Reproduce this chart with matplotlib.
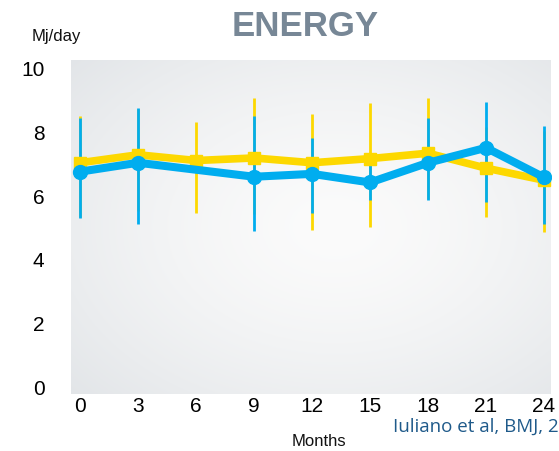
import numpy as np
import matplotlib
matplotlib.use("Agg")
import matplotlib.pyplot as plt

# Data
months_yellow = [0, 3, 6, 9, 12, 15, 18, 21, 24]
yellow_mean = [7.05, 7.3, 7.12, 7.2, 7.05, 7.18, 7.35, 6.88, 6.5]
yellow_upper = [8.53, 8.73, 8.32, 9.07, 8.57, 8.92, 9.07, 8.16, 8.05]
yellow_lower = [5.36, 5.54, 5.46, 5.44, 4.94, 5.02, 5.90, 5.33, 4.88]

months_blue = [0, 3, 9, 12, 15, 18, 21, 24]
blue_mean = [6.77, 7.05, 6.61, 6.70, 6.43, 7.05, 7.52, 6.59]
blue_upper = [8.45, 8.76, 8.52, 7.82, 7.03, 8.45, 8.95, 8.21]
blue_lower = [5.30, 5.14, 4.91, 5.46, 5.88, 5.88, 5.83, 5.12]

x_ticks = [0, 3, 6, 9, 12, 15, 18, 21, 24]
y_ticks = [0, 2, 4, 6, 8, 10]

BLUE = "#00ADEF"
YELLOW = "#FDD800"
FONT = ["Liberation Sans", "DejaVu Sans"]

fig = plt.figure(figsize=(5.59, 4.51), dpi=100)
ax = fig.add_axes([71 / 559, 1 - 394 / 451, 480 / 559, 334 / 451])

xlim = (-0.47, 24.36)
ylim = (-0.22, 10.28)
ax.set_xlim(*xlim)
ax.set_ylim(*ylim)

# radial-ish gradient background
nx, ny = 300, 240
gx, gy = np.meshgrid(np.linspace(0, 1, nx), np.linspace(0, 1, ny))
r = np.sqrt(((gx - 0.55) / 0.75) ** 2 + ((gy - 0.5) / 0.75) ** 2)
r = np.clip(r, 0, 1)
c_in = np.array([251, 251, 251]) / 255
c_out = np.array([226, 229, 232]) / 255
img = c_in[None, None, :] * (1 - r[..., None] ** 1.5) + c_out[None, None, :] * (r[..., None] ** 1.5)
ax.imshow(img, extent=[xlim[0], xlim[1], ylim[0], ylim[1]], aspect="auto",
          origin="lower", zorder=0)

# error bars
ax.vlines(months_yellow, yellow_lower, yellow_upper, colors=YELLOW, linewidth=2.0, zorder=2)
ax.vlines(months_blue, blue_lower, blue_upper, colors=BLUE, linewidth=2.0, zorder=2)

# lines
ax.plot(months_yellow, yellow_mean, color=YELLOW, linewidth=5.5, marker="s",
        markersize=9, zorder=3, solid_joinstyle="miter")
ax.plot(months_blue, blue_mean, color=BLUE, linewidth=5.8, marker="o",
        markersize=10, zorder=4)

for s in ax.spines.values():
    s.set_visible(False)
ax.set_xticks(x_ticks)
ax.set_xticklabels([str(v) for v in x_ticks], fontsize=15, family=FONT)
ax.set_yticks(y_ticks)
ax.set_yticklabels([str(v) for v in y_ticks], fontsize=15, family=FONT)
ax.tick_params(axis="both", length=0)
ax.tick_params(axis="y", pad=19)
ax.tick_params(axis="x", pad=2)

fig.text(305 / 559, 1 - 26 / 451, "ENERGY", fontsize=25, fontweight="bold",
         color="#778796", ha="center", va="center", family=FONT)
fig.text(56 / 559, 1 - 37 / 451, "Mj/day", fontsize=12, ha="center", va="center",
         family=FONT, color="#111111")
fig.text(319 / 559, 1 - 442 / 451, "Months", fontsize=12, ha="center", va="center",
         family=FONT, color="#111111")
fig.text(393 / 559, 1 - 432 / 451, "Iuliano et al, BMJ, 2", fontsize=13.5,
         ha="left", va="baseline", family=["Open Sans", "DejaVu Sans"], color="#1F5A8A")

fig.savefig("out.png", dpi=100)
